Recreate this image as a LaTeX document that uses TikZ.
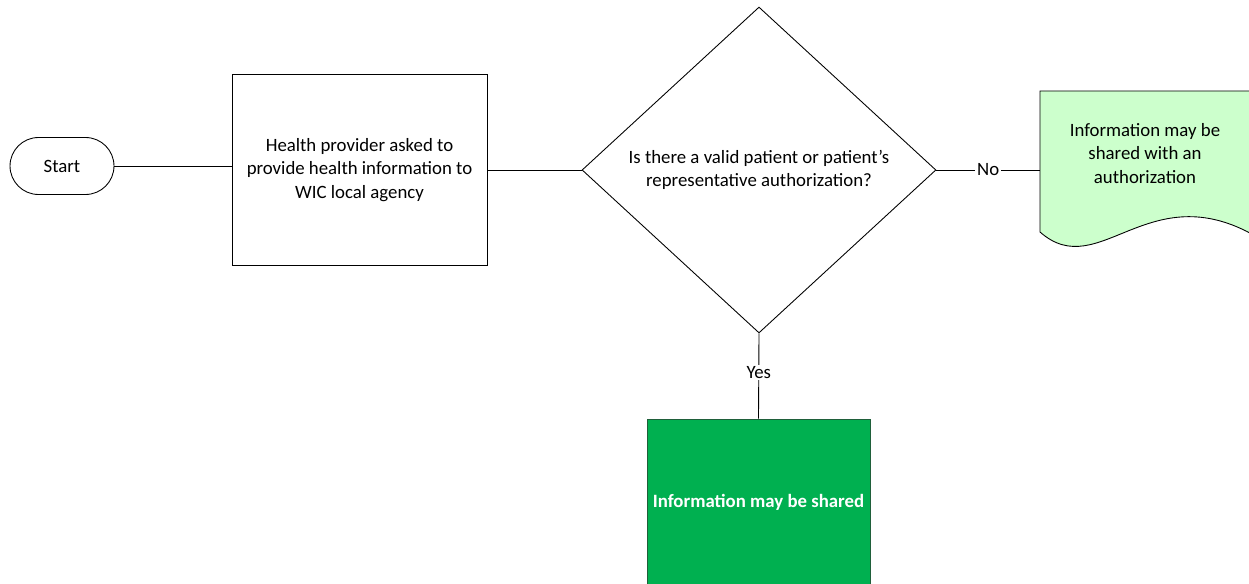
\documentclass[tikz,border=0pt]{standalone}
\usepackage{fontspec}
\setmainfont{Carlito}
\usepackage{tikz}
\usetikzlibrary{calc,positioning,shapes.geometric}
\definecolor{docgreen}{HTML}{CCFFCC}
\definecolor{okgreen}{HTML}{00B050}
\definecolor{okedge}{HTML}{1F5F3A}
\tikzset{
  every node/.style={font=\fontsize{10.7}{13.4}\selectfont, align=center},
  terminal/.style={draw, rounded corners=0.57cm, minimum width=2.08cm, minimum height=1.14cm},
  process/.style={draw, minimum width=5.1cm, minimum height=3.82cm},
  decision/.style={draw, diamond, inner sep=0pt, minimum width=7.08cm, minimum height=6.52cm},
  result/.style={draw=okedge, fill=okgreen, text=white, font=\fontsize{10.7}{13.4}\selectfont\bfseries, minimum width=4.46cm, minimum height=3.32cm},
  link/.style={draw, line width=0.5pt},
  tag/.style={fill=white, inner sep=1pt}
}
\begin{document}
\begin{tikzpicture}[x=0.02cm, y=-0.02cm, line width=0.5pt]
\path[use as bounding box, clip] (0,0) rectangle (1249,584);
\node[terminal] (S) at (62,166) {Start};
\node[process] (P) at (359.5,170) {Health provider asked to\\provide health information to\\WIC local agency};
\node[decision] (D) at (759,170) {Is there a valid patient or patient’s\\representative authorization?};
\coordinate (A) at (1040,91);
\filldraw[fill=docgreen] (A) -- (1040,232) .. controls (1100,285) and (1150,170) .. (1262,240) -- (1262,91) -- cycle;
\node (A2) at (1145,153.5) {Information may be\\shared with an\\authorization};
\coordinate (AW) at (1040,170);
\node[result] (R) at (758.5,502) {Information may be shared};
\draw[link] (S.east) -- (S.east -| P.west);
\draw[link] (P.east |- D.west) -- (D.west);
\draw[link] (D.east) -- node[tag] {No} (AW);
\draw[link] (D.south) -- node[tag, pos=0.46] {Yes} (R.north);
\end{tikzpicture}
\end{document}
